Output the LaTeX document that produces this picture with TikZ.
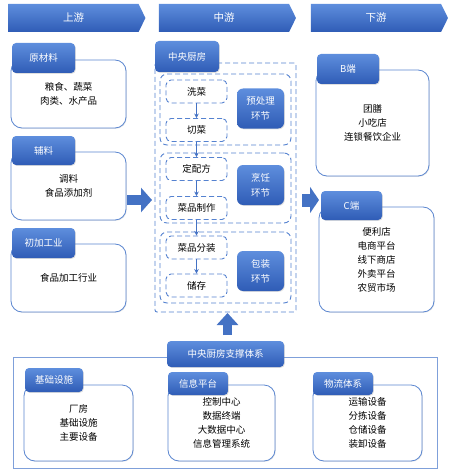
\documentclass[tikz,border=0pt]{standalone}
\usepackage{fontspec}
\setmainfont{Noto Sans CJK SC}
\usepackage{tikz}
\usetikzlibrary{arrows.meta,positioning,shapes.symbols,shadows}

\definecolor{tabtop}{HTML}{5E8EDD}
\definecolor{tabbot}{HTML}{2F5CB6}
\definecolor{lineblue}{HTML}{5B86D0}
\definecolor{frameblue}{HTML}{7FA0DA}
\definecolor{dashblue}{HTML}{5582D0}
\definecolor{arrowblue}{HTML}{4472C4}

\tikzset{
  stage/.style={shape=signal,signal to=east,signal pointer angle=127,
    top color=tabtop,bottom color=tabbot,text=white,font=\fontsize{10.5}{12}\selectfont,
    minimum width=137pt,minimum height=28pt,inner sep=0pt},
  tab/.style={rounded corners=4pt,top color=tabtop,bottom color=tabbot,text=white,
    font=\fontsize{9.5}{12}\selectfont,inner sep=0pt,
    drop shadow={opacity=0.25,shadow xshift=0.8pt,shadow yshift=-0.8pt}},
  card/.style={draw=lineblue,fill=white,rounded corners=11pt,line width=0.8pt,
    inner sep=0pt,align=center,font=\fontsize{9.5}{14}\selectfont,
    drop shadow={opacity=0.2,shadow xshift=0.8pt,shadow yshift=-0.8pt}},
  dashbox/.style={draw=dashblue,line width=0.9pt,dash pattern=on 5pt off 3pt,
    rounded corners=7pt,inner sep=0pt},
  stepnode/.style={dashbox,fill=white,rounded corners=5pt,minimum width=61pt,
    minimum height=23pt,font=\fontsize{9.5}{12}\selectfont},
  phase/.style={tab,rounded corners=6pt,minimum width=47pt,minimum height=40pt,
    align=center,font=\fontsize{9.5}{15}\selectfont},
  flow/.style={draw=arrowblue,line width=1pt,-{Stealth[length=4.5pt,width=4.5pt]}},
  block/.style={draw=arrowblue}
}

\begin{document}
\begin{tikzpicture}[x=1pt,y=-1pt]
  \useasboundingbox (0,0) rectangle (450,476);
  % stages
  \node[stage] (up)   at (73.5,18)  {上游};
  \node[stage] (mid)  at (224,18)   {中游};
  \node[stage] (down) at (376,18)   {下游};

  % upstream
  \node[card,minimum width=115pt,minimum height=68pt] (rawbody) at (68.5,94) {粮食、蔬菜\\肉类、水产品};
  \node[tab,minimum width=63pt,minimum height=30pt] (raw) at (43.5,58) {原材料};
  \node[card,minimum width=115pt,minimum height=68pt] (auxbody) at (68.5,186) {调料\\食品添加剂};
  \node[tab,minimum width=63pt,minimum height=29pt] (aux) at (43.5,150.5) {辅料};
  \node[card,minimum width=115pt,minimum height=68pt] (procbody) at (68.5,278) {食品加工行业};
  \node[tab,minimum width=63pt,minimum height=30pt] (proc) at (43.5,243) {初加工业};

  % central kitchen
  \node[dashbox,rounded corners=2pt,minimum width=141pt,minimum height=249pt] (kitchen) at (225.5,187.5) {};
  \node[tab,minimum width=64pt,minimum height=31pt] (kitchentab) at (187,56.5) {中央厨房};
  \node[dashbox,minimum width=131pt,minimum height=71pt] (grp1) at (225.5,109.5) {};
  \node[dashbox,minimum width=131pt,minimum height=70pt] (grp2) at (225.5,188) {};
  \node[dashbox,minimum width=131pt,minimum height=71pt] (grp3) at (225.5,267.5) {};
  \node[stepnode] (wash)  at (196.5,91.5)  {洗菜};
  \node[stepnode] (cut)   at (196.5,130)   {切菜};
  \node[stepnode] (recipe) at (196.5,169)  {定配方};
  \node[stepnode] (cook)  at (196.5,208)   {菜品制作};
  \node[stepnode] (pack)  at (196.5,247.5) {菜品分装};
  \node[stepnode] (store) at (196.5,285.5) {储存};
  \node[phase] (prep)   at (260.5,108.5) {预处理\\环节};
  \node[phase] (boil)   at (260.5,185)   {烹饪\\环节};
  \node[phase] (wrap)   at (260.5,271)   {包装\\环节};
  \draw[flow] (wash) -- (cut);
  \draw[flow] (cut) -- (recipe);
  \draw[flow] (recipe) -- (cook);
  \draw[flow] (cook) -- (pack);
  \draw[flow] (pack) -- (store);

  % downstream
  \node[card,minimum width=113pt,minimum height=106pt] (bbody) at (372.5,123) {团膳\\小吃店\\连锁餐饮企业};
  \node[tab,minimum width=62pt,minimum height=30pt] (bside) at (348,69) {B端};
  \node[card,minimum width=115pt,minimum height=105pt] (cbody) at (376.5,259.5) {便利店\\电商平台\\线下商店\\外卖平台\\农贸市场};

  % block arrows
  \coordinate (a1s) at (127,200);
  \coordinate (a1e) at (152,200);
  \coordinate (a2s) at (302,200);
  \coordinate (a2e) at (319,200);
  \coordinate (a3s) at (227.5,335);
  \coordinate (a3e) at (227.5,313);
  \draw[block,line width=10pt,-{Triangle[width=24pt,length=11pt]}] (a1s) -- (a1e);
  \draw[block,line width=13pt,-{Triangle[width=26pt,length=9pt]}] (a2s) -- (a2e);
  \draw[block,line width=9.5pt,-{Triangle[width=21pt,length=12pt]}] (a3s) -- (a3e);
  \node[tab,minimum width=61pt,minimum height=29pt] (cside) at (351.5,205.5) {C端};

  % support system
  \node[draw=frameblue,line width=0.8pt,minimum width=424pt,minimum height=111pt,inner sep=0pt] (support) at (225,412.5) {};
  \node[card,minimum width=109pt,minimum height=76pt] (basebody) at (78.5,423) {厂房\\基础设施\\主要设备};
  \node[tab,minimum width=58pt,minimum height=24pt] (base) at (54,380) {基础设施};
  \node[card,minimum width=107pt,minimum height=76pt] (infobody) at (221.5,423) {控制中心\\数据终端\\大数据中心\\信息管理系统};
  \node[tab,minimum width=60pt,minimum height=23pt] (info) at (198,383.5) {信息平台};
  \node[card,minimum width=109pt,minimum height=76pt] (logibody) at (367.5,423) {运输设备\\分拣设备\\仓储设备\\装卸设备};
  \node[tab,minimum width=60pt,minimum height=23pt] (logi) at (343,383.5) {物流体系};
  \node[tab,minimum width=117pt,minimum height=26pt] (supporttab) at (225.5,354) {中央厨房支撑体系};
\end{tikzpicture}
\end{document}
